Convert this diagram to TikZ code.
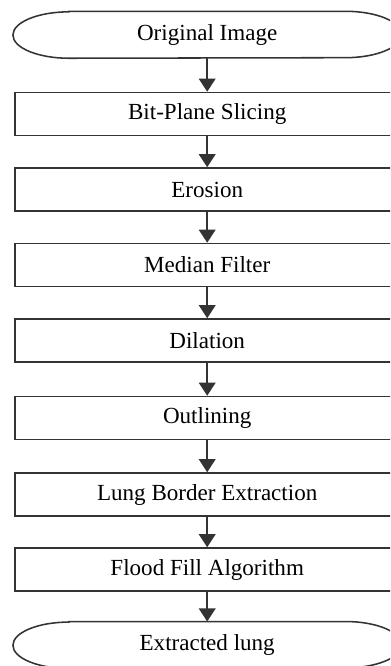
\documentclass[tikz,border=0pt]{standalone}
\usepackage{fontspec}
\setmainfont{Liberation Serif}
\usetikzlibrary{arrows.meta,calc,positioning}

\begin{document}
\begin{tikzpicture}

        \clip (0,0) rectangle (9.75,-16.65);

        \tikzstyle{every node}=[font=\fontsize{16.4}{19}\selectfont,inner sep=0pt]
        \tikzstyle{process}=[draw=black!80,line width=1.1pt,minimum width=9.6cm,minimum height=1.075cm]
        \tikzstyle{terminal}=[minimum width=9.7cm,minimum height=1.16cm]
        \tikzstyle{outline}=[draw=black!80,line width=1.1pt]
        \tikzstyle{flow}=[draw=black!80,line width=1.1pt,-{Triangle[length=3.3mm,width=4.2mm]}]

        \node[terminal] (start) at (5.18,-0.869) {Original Image};
        \node[process] (bps) at (5.18,-2.85) {Bit-Plane Slicing};
        \node[process] (ero) at (5.18,-4.7375) {Erosion};
        \node[process] (med) at (5.18,-6.625) {Median Filter};
        \node[process] (dil) at (5.18,-8.5125) {Dilation};
        \node[process] (outl) at (5.18,-10.45) {Outlining};
        \node[process] (lbe) at (5.18,-12.3625) {Lung Border Extraction};
        \node[process] (ffa) at (5.18,-14.2375) {Flood Fill Algorithm};
        \node[terminal] (stop) at (5.18,-16.125) {Extracted lung};

        % terminals
        \draw[outline] ($(start.north west)+(1.4,0)$) -- ($(start.north east)+(-1.4,0)$)
            arc[start angle=90,end angle=-90,x radius=1.4cm,y radius=0.58cm]
            -- ($(start.south west)+(1.4,0)$)
            arc[start angle=270,end angle=90,x radius=1.4cm,y radius=0.58cm] -- cycle;
        \draw[outline] ($(stop.north west)+(1.4,0)$) -- ($(stop.north east)+(-1.4,0)$)
            arc[start angle=90,end angle=-90,x radius=1.4cm,y radius=0.58cm]
            -- ($(stop.south west)+(1.4,0)$)
            arc[start angle=270,end angle=90,x radius=1.4cm,y radius=0.58cm] -- cycle;

        \draw[flow] (start) -- (bps);
        \draw[flow] (bps) -- (ero);
        \draw[flow] (ero) -- (med);
        \draw[flow] (med) -- (dil);
        \draw[flow] (dil) -- (outl);
        \draw[flow] (outl) -- (lbe);
        \draw[flow] (lbe) -- (ffa);
        \draw[flow] (ffa) -- (stop);

      \end{tikzpicture}
\end{document}
